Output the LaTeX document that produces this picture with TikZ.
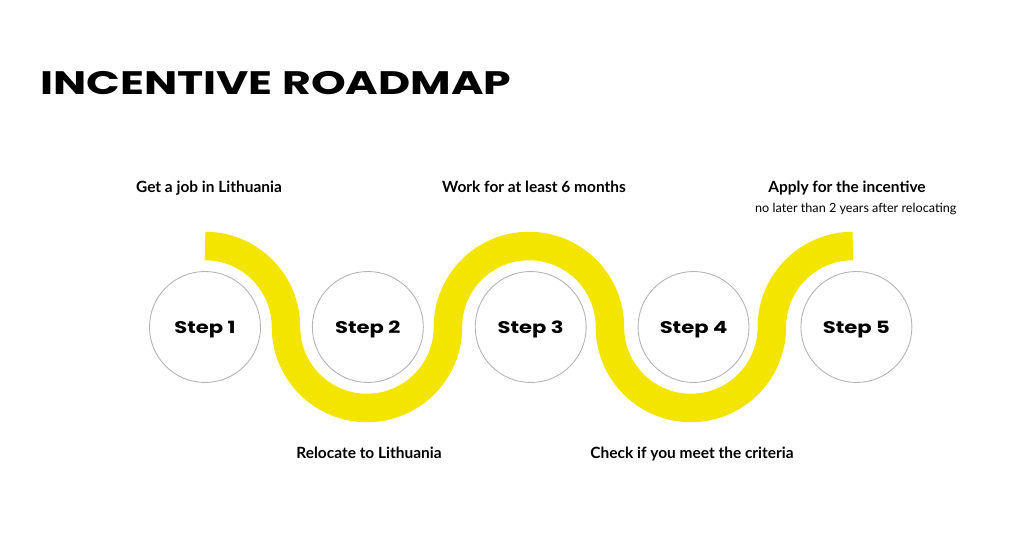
\documentclass[tikz,border=0pt]{standalone}
\usepackage{fontspec}
\setmainfont{Lato}
\newfontfamily\widefont[FakeStretch=1.36]{Poppins}
\newfontfamily\stepfont[FakeStretch=1.25]{Poppins}
\usetikzlibrary{positioning}
\definecolor{roadyellow}{HTML}{F4E500}
\definecolor{ringgray}{HTML}{B4B4B4}
\tikzset{%
  % Specifications for style of nodes:
         heading/.style = {anchor=base west, inner sep=0pt,
                           font=\widefont\bfseries\fontsize{18.5}{20}\selectfont},
        stepnode/.style = {circle, draw=ringgray, line width=0.5pt, fill=white,
                           minimum size=2.22cm, inner sep=0pt,
                           text height=0.7em, text depth=0pt,
                           font=\stepfont\bfseries\fontsize{9.6}{11}\selectfont},
       milestone/.style = {anchor=base, inner sep=0pt,
                           font=\bfseries\fontsize{8.8}{10}\selectfont},
            hint/.style = {anchor=base, inner sep=0pt,
                           font=\fontsize{7.2}{9}\selectfont},
            road/.style = {draw=roadyellow, line width=0.57cm},
}

\begin{document}
\begin{tikzpicture}[x=0.02cm, y=0.02cm, node distance=1.02cm]
  \useasboundingbox (0,0) rectangle (1024,-536);

  % Specification of nodes (position, etc.)
  \node (title)    [heading] at (40,-95)         {INCENTIVE ROADMAP};

  \node (step1)    [stepnode] at (205,-327)      {Step 1};
  \node (step2)    [stepnode, right=of step1]    {Step 2};
  \node (step3)    [stepnode, right=of step2]    {Step 3};
  \node (step4)    [stepnode, right=of step3]    {Step 4};
  \node (step5)    [stepnode, right=of step4]    {Step 5};

  % the yellow road, arcs round the steps
  \draw[road] ([yshift=1.62cm]step1.center)
      arc[start angle=90,  end angle=0,   radius=1.62cm]
      arc[start angle=180, end angle=360, radius=1.62cm]
      arc[start angle=180, end angle=0,   radius=1.62cm]
      arc[start angle=180, end angle=360, radius=1.62cm]
      arc[start angle=180, end angle=90,  radius=1.62cm];

  % labels above and below the steps
  \node (getJob)   [milestone] at (209,-193)     {Get a job in Lithuania};
  \node (relocate) [milestone] at (369,-459)     {Relocate to Lithuania};
  \node (work)     [milestone] at (534,-193)     {Work for at least 6 months};
  \node (check)    [milestone] at (692,-459)     {Check if you meet the criteria};
  \node (apply)    [milestone] at (847,-193)     {Apply for the incentive};
  \node (deadline) [hint, below=11pt of apply.base, anchor=base, xshift=5]
                   {no later than 2 years after relocating};
\end{tikzpicture}
\end{document}
